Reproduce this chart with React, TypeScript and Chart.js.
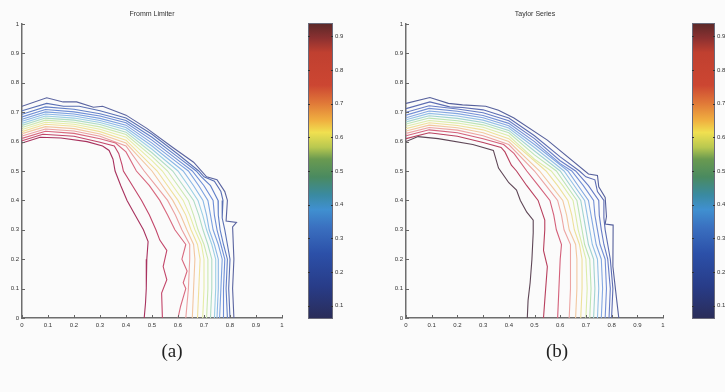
import React, { useEffect, useRef } from 'react';
import { Chart, registerables } from 'chart.js';

Chart.register(...registerables);

type P = [number, number];

// ---------- axis / colorbar ticks ----------
const TICK_VALUES = [0, 0.1, 0.2, 0.3, 0.4, 0.5, 0.6, 0.7, 0.8, 0.9, 1];
const COLORBAR_TICKS = [0.1, 0.2, 0.3, 0.4, 0.5, 0.6, 0.7, 0.8, 0.9];
const COLORBAR_MIN = 0.06;
const COLORBAR_MAX = 0.94;

// ---------- (a) Fromm Limiter contours, innermost (high) to outermost (low) ----------
const FROMM_L01: P[] = [[0,0.595],[0.07,0.615],[0.15,0.612],[0.25,0.6],[0.31,0.585],[0.335,0.57],[0.35,0.54],[0.358,0.5],[0.38,0.45],[0.404,0.4],[0.435,0.35],[0.467,0.3],[0.485,0.26],[0.48,0.2],[0.478,0.1],[0.475,0.05],[0.47,0]];
const FROMM_L02: P[] = [[0,0.603],[0.08,0.625],[0.2,0.618],[0.3,0.598],[0.355,0.585],[0.372,0.56],[0.385,0.52],[0.39,0.5],[0.425,0.45],[0.46,0.4],[0.49,0.35],[0.515,0.3],[0.53,0.265],[0.557,0.23],[0.543,0.175],[0.557,0.13],[0.537,0.085],[0.54,0]];
const FROMM_L03: P[] = [[0,0.611],[0.09,0.635],[0.2,0.628],[0.3,0.61],[0.36,0.595],[0.4,0.565],[0.44,0.5],[0.49,0.45],[0.53,0.4],[0.56,0.35],[0.588,0.3],[0.63,0.25],[0.615,0.2],[0.635,0.16],[0.62,0.12],[0.63,0.1],[0.61,0.04],[0.6,0]];
const FROMM_L04: P[] = [[0,0.619],[0.09,0.643],[0.2,0.636],[0.3,0.618],[0.4,0.585],[0.47,0.5],[0.515,0.45],[0.56,0.4],[0.59,0.35],[0.615,0.3],[0.645,0.25],[0.645,0.2],[0.64,0.1],[0.63,0]];
const FROMM_L05: P[] = [[0,0.627],[0.09,0.651],[0.2,0.644],[0.3,0.626],[0.4,0.595],[0.5,0.5],[0.54,0.45],[0.58,0.4],[0.61,0.35],[0.634,0.3],[0.66,0.25],[0.665,0.2],[0.66,0.1],[0.655,0]];
const FROMM_L06: P[] = [[0,0.634],[0.09,0.659],[0.2,0.652],[0.3,0.634],[0.4,0.605],[0.52,0.5],[0.56,0.45],[0.6,0.4],[0.63,0.35],[0.65,0.3],[0.675,0.25],[0.685,0.2],[0.68,0.1],[0.675,0]];
const FROMM_L07: P[] = [[0,0.641],[0.09,0.666],[0.2,0.659],[0.3,0.642],[0.4,0.615],[0.5,0.535],[0.54,0.5],[0.58,0.45],[0.62,0.4],[0.645,0.35],[0.665,0.3],[0.69,0.25],[0.7,0.2],[0.7,0.1],[0.695,0]];
const FROMM_L08: P[] = [[0,0.648],[0.09,0.673],[0.2,0.666],[0.3,0.65],[0.4,0.624],[0.5,0.55],[0.56,0.5],[0.6,0.45],[0.64,0.4],[0.66,0.35],[0.677,0.3],[0.7,0.25],[0.715,0.2],[0.715,0.1],[0.71,0]];
const FROMM_L09: P[] = [[0,0.655],[0.09,0.68],[0.2,0.673],[0.3,0.658],[0.4,0.632],[0.5,0.562],[0.58,0.5],[0.62,0.45],[0.66,0.4],[0.68,0.35],[0.696,0.3],[0.715,0.25],[0.73,0.2],[0.73,0.1],[0.725,0]];
const FROMM_L10: P[] = [[0,0.662],[0.09,0.687],[0.2,0.68],[0.3,0.665],[0.4,0.64],[0.5,0.574],[0.6,0.5],[0.64,0.45],[0.677,0.4],[0.695,0.35],[0.71,0.3],[0.73,0.25],[0.745,0.2],[0.745,0.1],[0.74,0]];
const FROMM_L11: P[] = [[0,0.669],[0.09,0.694],[0.2,0.687],[0.3,0.672],[0.4,0.648],[0.5,0.585],[0.62,0.5],[0.66,0.45],[0.696,0.4],[0.71,0.35],[0.72,0.3],[0.74,0.25],[0.755,0.2],[0.755,0.1],[0.75,0]];
const FROMM_L12: P[] = [[0,0.676],[0.09,0.701],[0.2,0.694],[0.3,0.679],[0.4,0.656],[0.5,0.595],[0.6,0.527],[0.64,0.5],[0.68,0.45],[0.715,0.4],[0.725,0.35],[0.735,0.3],[0.755,0.25],[0.77,0.2],[0.765,0.1],[0.76,0]];
const FROMM_L13: P[] = [[0,0.684],[0.09,0.709],[0.2,0.701],[0.3,0.687],[0.4,0.664],[0.5,0.605],[0.6,0.537],[0.655,0.5],[0.7,0.45],[0.735,0.4],[0.74,0.35],[0.75,0.3],[0.765,0.25],[0.78,0.2],[0.775,0.1],[0.775,0]];
const FROMM_L14: P[] = [[0,0.693],[0.09,0.718],[0.2,0.71],[0.3,0.695],[0.4,0.672],[0.5,0.615],[0.6,0.547],[0.67,0.5],[0.69,0.48],[0.725,0.45],[0.754,0.4],[0.755,0.35],[0.762,0.3],[0.775,0.25],[0.79,0.2],[0.785,0.1],[0.79,0]];
const FROMM_L15: P[] = [[0,0.705],[0.095,0.73],[0.16,0.72],[0.22,0.72],[0.3,0.705],[0.4,0.68],[0.5,0.625],[0.6,0.557],[0.68,0.5],[0.7,0.48],[0.74,0.465],[0.765,0.43],[0.773,0.4],[0.77,0.34],[0.78,0.3],[0.79,0.25],[0.8,0.2],[0.795,0.1],[0.8,0]];
const FROMM_L16: P[] = [[0,0.72],[0.095,0.749],[0.158,0.735],[0.21,0.735],[0.275,0.717],[0.31,0.72],[0.4,0.69],[0.48,0.645],[0.58,0.58],[0.66,0.53],[0.71,0.48],[0.75,0.47],[0.78,0.43],[0.79,0.4],[0.785,0.33],[0.825,0.325],[0.81,0.31],[0.815,0.2],[0.81,0.1],[0.815,0]];

// ---------- (b) Taylor Series contours, innermost (high) to outermost (low) ----------
const TAYLOR_L01: P[] = [[0,0.6],[0.047,0.617],[0.125,0.61],[0.26,0.59],[0.34,0.57],[0.36,0.51],[0.4,0.46],[0.43,0.435],[0.445,0.4],[0.47,0.36],[0.495,0.333],[0.495,0.29],[0.49,0.2],[0.483,0.12],[0.475,0.06],[0.472,0]];
const TAYLOR_L02: P[] = [[0,0.61],[0.09,0.63],[0.2,0.618],[0.3,0.597],[0.37,0.58],[0.385,0.565],[0.41,0.52],[0.43,0.5],[0.47,0.45],[0.514,0.4],[0.54,0.333],[0.54,0.3],[0.535,0.23],[0.55,0.175],[0.54,0.06],[0.535,0]];
const TAYLOR_L03: P[] = [[0,0.62],[0.09,0.64],[0.2,0.63],[0.3,0.61],[0.38,0.59],[0.42,0.56],[0.47,0.5],[0.515,0.45],[0.56,0.4],[0.575,0.35],[0.585,0.3],[0.605,0.25],[0.6,0.2],[0.595,0.1],[0.59,0]];
const TAYLOR_L04: P[] = [[0,0.628],[0.09,0.648],[0.2,0.639],[0.3,0.62],[0.4,0.59],[0.5,0.5],[0.545,0.45],[0.59,0.4],[0.605,0.35],[0.615,0.3],[0.64,0.25],[0.64,0.2],[0.64,0.1],[0.635,0]];
const TAYLOR_L05: P[] = [[0,0.636],[0.09,0.656],[0.2,0.647],[0.3,0.63],[0.4,0.6],[0.52,0.5],[0.565,0.45],[0.61,0.4],[0.625,0.35],[0.635,0.3],[0.66,0.25],[0.665,0.2],[0.665,0.1],[0.66,0]];
const TAYLOR_L06: P[] = [[0,0.644],[0.09,0.664],[0.2,0.655],[0.3,0.64],[0.4,0.61],[0.545,0.5],[0.59,0.45],[0.63,0.4],[0.645,0.35],[0.655,0.3],[0.675,0.25],[0.685,0.2],[0.685,0.1],[0.68,0]];
const TAYLOR_L07: P[] = [[0,0.652],[0.09,0.672],[0.2,0.663],[0.3,0.649],[0.4,0.62],[0.5,0.54],[0.565,0.5],[0.61,0.45],[0.65,0.4],[0.66,0.35],[0.67,0.3],[0.685,0.25],[0.7,0.2],[0.705,0.1],[0.7,0]];
const TAYLOR_L08: P[] = [[0,0.66],[0.09,0.68],[0.2,0.671],[0.3,0.657],[0.4,0.63],[0.5,0.555],[0.585,0.5],[0.625,0.45],[0.665,0.4],[0.675,0.35],[0.685,0.3],[0.695,0.25],[0.715,0.2],[0.72,0.1],[0.715,0]];
const TAYLOR_L09: P[] = [[0,0.667],[0.09,0.688],[0.2,0.679],[0.3,0.665],[0.4,0.638],[0.5,0.568],[0.6,0.5],[0.64,0.45],[0.68,0.4],[0.69,0.35],[0.7,0.3],[0.71,0.25],[0.73,0.2],[0.735,0.1],[0.73,0]];
const TAYLOR_L10: P[] = [[0,0.674],[0.09,0.696],[0.2,0.687],[0.3,0.673],[0.4,0.646],[0.5,0.58],[0.615,0.5],[0.655,0.45],[0.695,0.4],[0.705,0.35],[0.715,0.3],[0.725,0.25],[0.745,0.2],[0.75,0.1],[0.745,0]];
const TAYLOR_L11: P[] = [[0,0.681],[0.09,0.704],[0.2,0.695],[0.3,0.681],[0.4,0.654],[0.5,0.59],[0.63,0.5],[0.67,0.45],[0.71,0.4],[0.72,0.35],[0.73,0.3],[0.74,0.25],[0.76,0.2],[0.765,0.1],[0.76,0]];
const TAYLOR_L12: P[] = [[0,0.69],[0.09,0.713],[0.2,0.703],[0.3,0.689],[0.4,0.662],[0.5,0.6],[0.6,0.525],[0.645,0.5],[0.69,0.45],[0.73,0.4],[0.735,0.35],[0.745,0.3],[0.755,0.25],[0.775,0.2],[0.78,0.1],[0.775,0]];
const TAYLOR_L13: P[] = [[0,0.7],[0.09,0.722],[0.2,0.711],[0.3,0.698],[0.4,0.671],[0.5,0.61],[0.6,0.535],[0.66,0.5],[0.71,0.45],[0.75,0.4],[0.752,0.35],[0.76,0.3],[0.77,0.25],[0.785,0.2],[0.795,0.1],[0.79,0]];
const TAYLOR_L14: P[] = [[0,0.712],[0.093,0.735],[0.17,0.718],[0.22,0.716],[0.3,0.708],[0.4,0.68],[0.5,0.62],[0.6,0.548],[0.675,0.5],[0.7,0.48],[0.735,0.47],[0.745,0.43],[0.77,0.4],[0.77,0.34],[0.775,0.3],[0.785,0.25],[0.795,0.2],[0.805,0.1],[0.8,0]];
const TAYLOR_L15: P[] = [[0,0.73],[0.093,0.75],[0.165,0.73],[0.22,0.725],[0.31,0.72],[0.36,0.707],[0.42,0.68],[0.55,0.605],[0.71,0.49],[0.745,0.485],[0.75,0.446],[0.775,0.41],[0.78,0.345],[0.775,0.32],[0.806,0.316],[0.805,0.175],[0.82,0.06],[0.828,0]];

const FROMM_CONTOURS = [FROMM_L01, FROMM_L02, FROMM_L03, FROMM_L04, FROMM_L05, FROMM_L06, FROMM_L07, FROMM_L08, FROMM_L09, FROMM_L10, FROMM_L11, FROMM_L12, FROMM_L13, FROMM_L14, FROMM_L15, FROMM_L16];
const TAYLOR_CONTOURS = [TAYLOR_L01, TAYLOR_L02, TAYLOR_L03, TAYLOR_L04, TAYLOR_L05, TAYLOR_L06, TAYLOR_L07, TAYLOR_L08, TAYLOR_L09, TAYLOR_L10, TAYLOR_L11, TAYLOR_L12, TAYLOR_L13, TAYLOR_L14, TAYLOR_L15];

// ---------- styles ----------
const FROMM_COLORS = ['#a8325e', '#c2466a', '#d8687e', '#eba0a0', '#f2c6a0', '#f0e09a', '#e6eca6', '#cce8b0', '#aedcc4', '#9ccfe4', '#8cb8e6', '#7ca2e0', '#6e8ed6', '#6280c8', '#5a70b4', '#5a64a0'];
const TAYLOR_COLORS = ['#5e4656', '#b8405e', '#d4607a', '#eca4a2', '#f2c8a0', '#eee09a', '#dcecaa', '#bce4b4', '#a2d4d0', '#94c0e6', '#84a8e2', '#7490d6', '#667cc6', '#5c6cb2', '#56609c'];
const JET_STOPS: [number, string][] = [
  [0.0, '#2a2c58'], [0.11, '#283c88'], [0.22, '#2c50a8'], [0.31, '#3a70c0'], [0.37, '#4090d0'],
  [0.42, '#3a8aa0'], [0.48, '#4a8a60'], [0.54, '#6a9a50'], [0.58, '#b8c850'], [0.63, '#f0e050'],
  [0.67, '#f0b040'], [0.73, '#e07838'], [0.79, '#cc4632'], [0.9, '#c04030'], [0.95, '#8a3030'], [1.0, '#5a2828'],
];

const fmt = (v: number) => (v === 0 ? '0' : v === 1 ? '1' : v.toFixed(1));
const TICK_FONT = { family: 'Liberation Sans, Arial, sans-serif', size: 6 };

const innerTicks = {
  id: 'innerTicks',
  afterDraw(chart: any) {
    const { ctx, chartArea: a, scales } = chart;
    ctx.save();
    ctx.strokeStyle = '#666';
    ctx.lineWidth = 1;
    scales.x.ticks.forEach((t: any) => {
      const px = Math.round(scales.x.getPixelForValue(t.value)) + 0.5;
      ctx.beginPath(); ctx.moveTo(px, a.bottom); ctx.lineTo(px, a.bottom - 3); ctx.stroke();
    });
    scales.y.ticks.forEach((t: any) => {
      const py = Math.round(scales.y.getPixelForValue(t.value)) + 0.5;
      ctx.beginPath(); ctx.moveTo(a.left, py); ctx.lineTo(a.left + 3, py); ctx.stroke();
    });
    ctx.restore();
  },
};

const colorbarPlugin = {
  id: 'colorbar',
  beforeDatasetsDraw(chart: any) {
    const { ctx, chartArea: a, scales } = chart;
    const g = ctx.createLinearGradient(0, a.bottom, 0, a.top);
    JET_STOPS.forEach(([t, c]) => g.addColorStop(t, c));
    ctx.save();
    ctx.fillStyle = g;
    ctx.fillRect(a.left, a.top, a.right - a.left, a.bottom - a.top);
    ctx.strokeStyle = '#6a6a7a';
    ctx.lineWidth = 1;
    ctx.strokeRect(a.left + 0.5, a.top + 0.5, a.right - a.left - 1, a.bottom - a.top - 1);
    ctx.strokeStyle = '#333';
    scales.y.ticks.forEach((t: any) => {
      const py = Math.round(scales.y.getPixelForValue(t.value)) + 0.5;
      ctx.beginPath(); ctx.moveTo(a.left, py); ctx.lineTo(a.left + 2, py); ctx.stroke();
      ctx.beginPath(); ctx.moveTo(a.right, py); ctx.lineTo(a.right - 2, py); ctx.stroke();
    });
    ctx.restore();
  },
};

function makeContour(canvas: HTMLCanvasElement, contours: P[][], colors: string[], pad: { top: number; right: number }, yW: number, xH: number) {
  return new Chart(canvas, {
    type: 'scatter',
    data: {
      datasets: contours.map((pts, i) => ({
        data: pts.map(([x, y]) => ({ x, y })),
        borderColor: colors[i],
        backgroundColor: colors[i],
        borderWidth: 1.1,
        showLine: true,
        pointRadius: 0,
        tension: 0,
        fill: false,
      })),
    },
    options: {
      responsive: false,
      animation: false,
      layout: { padding: { top: pad.top, right: pad.right, left: 0, bottom: 0 } },
      plugins: { legend: { display: false }, tooltip: { enabled: false } },
      scales: {
        x: {
          type: 'linear', min: 0, max: 1,
          afterBuildTicks: (s: any) => { s.ticks = TICK_VALUES.map((v) => ({ value: v })); },
          afterFit: (s: any) => { s.height = xH; },
          ticks: { font: TICK_FONT, color: '#333', padding: 4, maxRotation: 0, autoSkip: false, callback: (v: any) => fmt(Number(v)) },
          grid: { display: true, drawOnChartArea: false, drawTicks: false },
          border: { display: true, color: '#6e6e6e', width: 1.5 },
        },
        y: {
          type: 'linear', min: 0, max: 1,
          afterBuildTicks: (s: any) => { s.ticks = TICK_VALUES.map((v) => ({ value: v })); },
          afterFit: (s: any) => { s.width = yW; },
          ticks: { font: TICK_FONT, color: '#333', padding: 3, autoSkip: false, callback: (v: any) => fmt(Number(v)) },
          grid: { display: true, drawOnChartArea: false, drawTicks: false },
          border: { display: true, color: '#6e6e6e', width: 1.5 },
        },
      },
    } as any,
    plugins: [innerTicks],
  });
}

function makeColorbar(canvas: HTMLCanvasElement, padLeft: number, padTop: number, padBottom: number, axisW: number) {
  return new Chart(canvas, {
    type: 'scatter',
    data: { datasets: [] },
    options: {
      responsive: false,
      animation: false,
      layout: { padding: { top: padTop, bottom: padBottom, left: padLeft, right: 0 } },
      plugins: { legend: { display: false }, tooltip: { enabled: false } },
      scales: {
        x: { display: false, min: 0, max: 1 },
        y: {
          type: 'linear', position: 'right', min: COLORBAR_MIN, max: COLORBAR_MAX,
          afterBuildTicks: (s: any) => { s.ticks = COLORBAR_TICKS.map((v) => ({ value: v })); },
          afterFit: (s: any) => { s.width = axisW; },
          ticks: { font: TICK_FONT, color: '#333', padding: 2, autoSkip: false, callback: (v: any) => fmt(Number(v)) },
          grid: { display: false, drawTicks: false, tickLength: 0 },
          border: { display: false },
        },
      },
    } as any,
    plugins: [colorbarPlugin],
  });
}

export default function App() {
  const c1 = useRef<HTMLCanvasElement>(null);
  const c2 = useRef<HTMLCanvasElement>(null);
  const c3 = useRef<HTMLCanvasElement>(null);
  const c4 = useRef<HTMLCanvasElement>(null);

  useEffect(() => {
    document.body.style.margin = '0';
    document.body.style.background = '#fbfbfb';
    const charts = [
      makeContour(c1.current!, FROMM_CONTOURS, FROMM_COLORS, { top: 24, right: 18 }, 22, 27),
      makeColorbar(c2.current!, 18, 23, 26, 27),
      makeContour(c3.current!, TAYLOR_CONTOURS, TAYLOR_COLORS, { top: 24, right: 21 }, 22, 27),
      makeColorbar(c4.current!, 17, 23, 26, 10),
    ];
    return () => charts.forEach((c) => c.destroy());
  }, []);

  const abs = (l: number, t: number): React.CSSProperties => ({ position: 'absolute', left: l, top: t });
  const title: React.CSSProperties = { position: 'absolute', top: 10, width: 200, textAlign: 'center', font: '7px "Liberation Sans", Arial, sans-serif', color: '#333' };
  const cap: React.CSSProperties = { position: 'absolute', top: 340, width: 60, textAlign: 'center', font: '19px "Liberation Serif", "DejaVu Serif", serif', color: '#222' };

  return (
    <div style={{ position: 'absolute', left: 0, top: 0, width: 725, height: 392, overflow: 'hidden', background: '#fbfbfb' }}>
      <canvas ref={c1} width={300} height={345} style={abs(0, 0)} />
      <canvas ref={c2} width={70} height={345} style={abs(290, 0)} />
      <canvas ref={c3} width={300} height={345} style={abs(384, 0)} />
      <canvas ref={c4} width={50} height={345} style={abs(675, 0)} />
      <div style={{ ...title, left: 52 }}>Fromm Limiter</div>
      <div style={{ ...title, left: 435 }}>Taylor Series</div>
      <div style={{ ...cap, left: 142 }}>(a)</div>
      <div style={{ ...cap, left: 527 }}>(b)</div>
    </div>
  );
}
